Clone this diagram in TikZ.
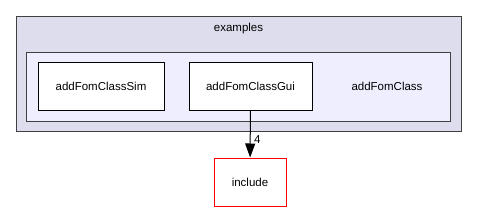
\documentclass[tikz,border=0pt]{standalone}
\usepackage{fontspec}
\setmainfont{Liberation Sans}
\usetikzlibrary{positioning, arrows.meta}

\begin{document}
\begin{tikzpicture}[
    x=1pt, y=-1pt, line width=1pt,
    cluster/.style={draw=black!75, rectangle, inner sep=0pt, minimum width=#1},
    dirbox/.style={draw=black, rectangle, fill=white, minimum height=48pt, font=\fontsize{11.5}{13}\selectfont},
    dirlabel/.style={font=\fontsize{11.5}{13}\selectfont},
    dep/.style={-{Triangle[length=14pt, width=10pt]}, black}
]
    \useasboundingbox (0,0) rectangle (477,212);

    % ================= CLUSTERS =================
    \node[cluster=445pt, fill={rgb,255:red,221;green,221;blue,238}, minimum height=115pt] (examples) at (238.5, 73.5) {};
    \node[dirlabel, below=4pt of examples.north] (examplesLbl) {examples};
    \node[cluster=424pt, fill={rgb,255:red,238;green,238;blue,255}, minimum height=69pt] (addFomClass) at (238, 86.5) {};
    \node[dirlabel] (addFomClassLbl) at (387, 86) {addFomClass};

    % ================= DIRECTORIES =================
    \node[dirbox, minimum width=126pt] (sim) at (101, 86) {addFomClassSim};
    \node[dirbox, minimum width=123pt] (gui) at (250.5, 86) {addFomClassGui};
    \node[dirbox, draw=red, minimum width=72pt] (incl) at (250, 182) {include};

    % ================= DEPENDENCIES =================
    \draw[dep] (gui) -- (incl) node[pos=0.62, right=0pt, dirlabel] {4};

\end{tikzpicture}
\end{document}
